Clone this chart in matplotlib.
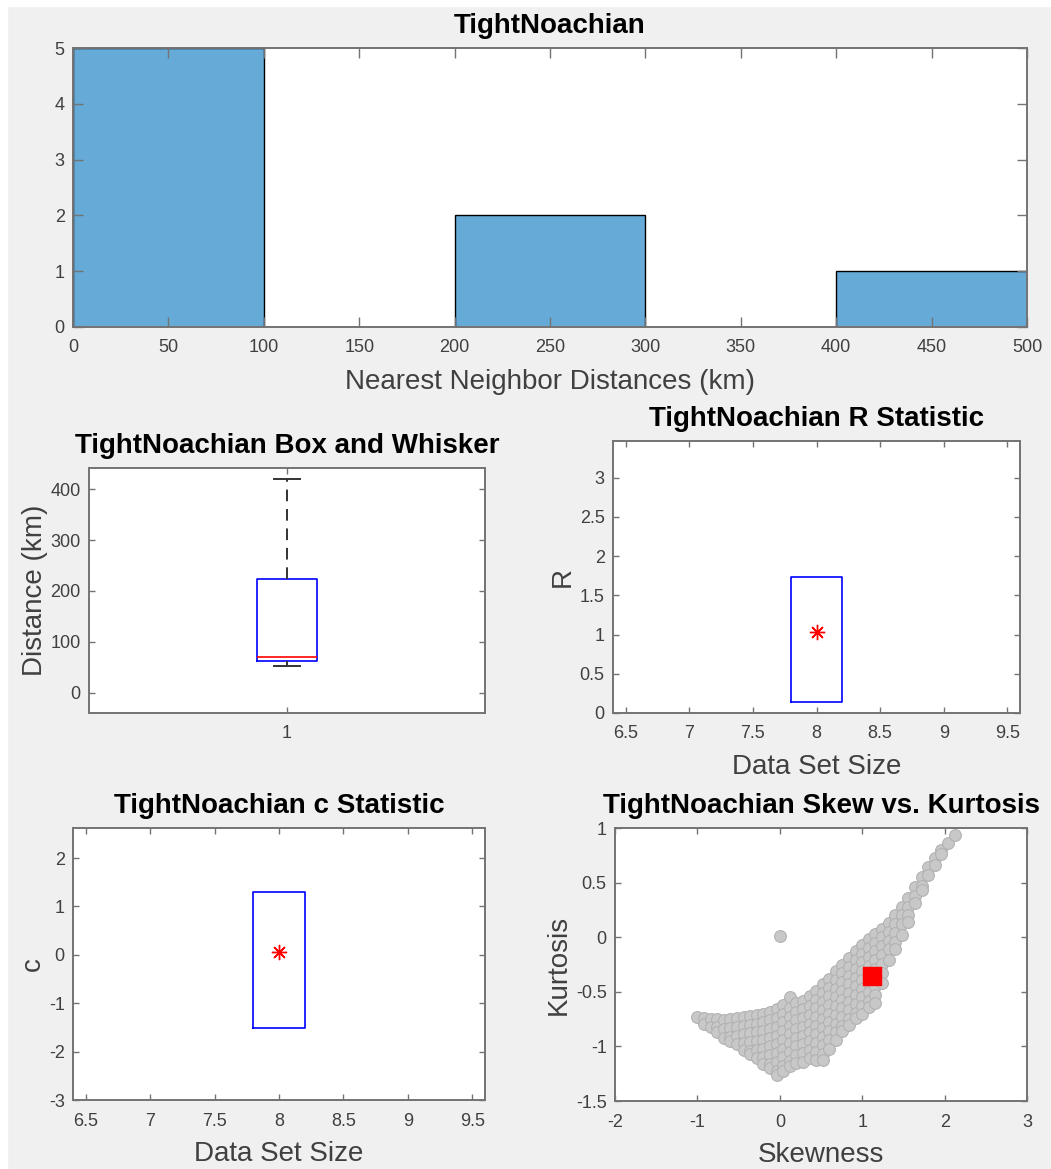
import numpy as np
import matplotlib
matplotlib.use("Agg")
import matplotlib.pyplot as plt
from matplotlib.patches import Rectangle

plt.rcParams['font.family'] = ['Liberation Sans', 'DejaVu Sans']
plt.rcParams['axes.unicode_minus'] = False

# --- data ---
hist_edges = [0, 100, 200, 300, 400, 500]
hist_counts = [5, 0, 2, 0, 1]

box_whislo = 53
box_q1 = 62
box_med = 70
box_q3 = 224
box_whishi = 421

r_size = 8
r_value = 1.03
r_low = 0.14
r_high = 1.74

c_size = 8
c_value = 0.05
c_low = -1.52
c_high = 1.30

# skew/kurtosis cloud, read column by column
skew_cols = [-1.0, -0.92, -0.84, -0.76, -0.68, -0.6, -0.52, -0.44, -0.36, -0.28,
             -0.2, -0.12, -0.04, 0.04, 0.12, 0.2, 0.28, 0.36, 0.44, 0.52,
             0.6, 0.68, 0.76, 0.84, 0.92, 1.0, 1.08, 1.16, 1.24, 1.32,
             1.4, 1.48, 1.56, 1.64, 1.72, 1.8, 1.88, 1.96, 2.04, 2.12]
kurt_cols = [
    [-0.73],
    [-0.74, -0.79],
    [-0.75, -0.82],
    [-0.75, -0.82, -0.87],
    [-0.76, -0.84, -0.92],
    [-0.75, -0.83, -0.91, -0.95],
    [-0.74, -0.82, -0.9, -0.98],
    [-0.73, -0.81, -0.89, -0.97, -1.03],
    [-0.72, -0.8, -0.88, -0.96, -1.04, -1.07],
    [-0.71, -0.79, -0.87, -0.95, -1.03, -1.11],
    [-0.7, -0.78, -0.86, -0.94, -1.02, -1.1, -1.16],
    [-0.68, -0.76, -0.84, -0.92, -1.0, -1.08, -1.16, -1.2],
    [-0.66, -0.74, -0.82, -0.9, -0.98, -1.06, -1.14, -1.22, -1.26],
    [-0.62, -0.7, -0.78, -0.86, -0.94, -1.02, -1.1, -1.18, -1.22],
    [-0.55, -0.65, -0.73, -0.81, -0.89, -0.97, -1.05, -1.13, -1.18],
    [-0.6, -0.68, -0.76, -0.84, -0.92, -1.0, -1.08, -1.15],
    [-0.58, -0.66, -0.74, -0.82, -0.9, -0.98, -1.06, -1.14],
    [-0.54, -0.63, -0.71, -0.79, -0.87, -0.95, -1.03, -1.11],
    [-0.49, -0.57, -0.65, -0.73, -0.81, -0.89, -0.97, -1.05, -1.12],
    [-0.43, -0.51, -0.59, -0.67, -0.75, -0.83, -0.91, -0.99, -1.07, -1.12],
    [-0.38, -0.46, -0.54, -0.62, -0.7, -0.78, -0.86, -0.94, -1.02],
    [-0.31, -0.39, -0.47, -0.55, -0.63, -0.71, -0.79, -0.87, -0.94],
    [-0.25, -0.33, -0.41, -0.49, -0.57, -0.65, -0.73, -0.81, -0.86],
    [-0.19, -0.27, -0.35, -0.43, -0.51, -0.59, -0.67, -0.75, -0.8],
    [-0.13, -0.21, -0.29, -0.37, -0.45, -0.53, -0.61, -0.69, -0.74],
    [-0.07, -0.15, -0.23, -0.31, -0.39, -0.47, -0.55, -0.63, -0.7],
    [-0.02, -0.1, -0.18, -0.26, -0.34, -0.42, -0.5, -0.58, -0.64],
    [0.03, -0.05, -0.13, -0.21, -0.29, -0.37, -0.45, -0.53, -0.6],
    [0.08, 0.0, -0.08, -0.16, -0.24, -0.33, -0.42],
    [0.13, 0.05, -0.03, -0.11, -0.21],
    [0.2, 0.12, 0.04, -0.04, -0.11],
    [0.28, 0.2, 0.12, 0.02],
    [0.36, 0.28, 0.2, 0.14],
    [0.46, 0.38, 0.31],
    [0.55, 0.47, 0.43],
    [0.64, 0.57],
    [0.73, 0.66],
    [0.8, 0.76],
    [0.86],
    [0.94],
]
skew_outlier = [0.0]
kurt_outlier = [0.01]
skew_obs = 1.12
kurt_obs = -0.35

# --- styling helpers ---
BG = '#f0f0f0'
SPINE = '#737373'
TXT = '#404040'
TITLE_FS = 20
LABEL_FS = 20


def style_axes(ax, ticklen=4):
    for s in ax.spines.values():
        s.set_color(SPINE)
        s.set_linewidth(1.4)
    ax.tick_params(direction='in', top=True, right=True, length=ticklen,
                   width=1.0, color=SPINE, labelcolor=TXT, labelsize=13)
    ax.tick_params(axis='x', pad=9)
    ax.tick_params(axis='y', pad=6)
    ax.set_facecolor('white')


fig = plt.figure(figsize=(10.51, 11.69), dpi=100, facecolor=BG)
fig.patches.append(Rectangle((0, 0), 7 / 1051, 1, transform=fig.transFigure,
                             color='white', zorder=-1))
fig.patches.append(Rectangle((0, 1 - 6 / 1169), 1, 6 / 1169, transform=fig.transFigure,
                             color='white', zorder=-1))

# histogram
ax1 = fig.add_axes([0.0695, 0.7203, 0.9077, 0.2386])
ax1.bar(hist_edges[:-1], hist_counts, width=np.diff(hist_edges), align='edge',
        color='#66aad7', edgecolor='black', linewidth=1.0)
ax1.set_xlim(0, 500)
ax1.set_ylim(0, 5)
ax1.set_xticks(np.arange(0, 501, 50))
ax1.set_yticks(range(0, 6))
style_axes(ax1, ticklen=7)
ax1.set_title('TightNoachian', fontsize=TITLE_FS, fontweight='bold', pad=11)
ax1.set_xlabel('Nearest Neighbor Distances (km)', fontsize=LABEL_FS, color=TXT, labelpad=9)

# box and whisker
ax2 = fig.add_axes([0.0847, 0.3901, 0.3768, 0.2096])
stats = [dict(med=box_med, q1=box_q1, q3=box_q3, whislo=box_whislo,
              whishi=box_whishi, fliers=[])]
ax2.bxp(stats, positions=[1], widths=0.15, showfliers=False,
        boxprops=dict(color='blue', linewidth=1.2),
        medianprops=dict(color='red', linewidth=1.2),
        whiskerprops=dict(color='#333333', linestyle=(0, (6, 4)), linewidth=1.4),
        capprops=dict(color='#333333', linewidth=1.4), capwidths=0.065)
ax2.set_xlim(0.5, 1.5)
ax2.set_ylim(-40, 442)
ax2.set_xticks([1])
ax2.set_xticklabels(['1'])
ax2.set_yticks([0, 100, 200, 300, 400])
style_axes(ax2)
ax2.set_title('TightNoachian Box and Whisker', fontsize=TITLE_FS, fontweight='bold', pad=11)
ax2.set_ylabel('Distance (km)', fontsize=LABEL_FS, color=TXT, labelpad=2)

# R statistic
ax3 = fig.add_axes([0.5833, 0.3901, 0.3873, 0.2327])
ax3.plot([r_size - 0.2, r_size + 0.2, r_size + 0.2, r_size - 0.2, r_size - 0.2],
         [r_low, r_low, r_high, r_high, r_low], color='blue', linewidth=1.2)
ax3.plot([r_size], [r_value], marker=(8, 2, 0), color='red', markersize=11,
         linestyle='none', markeredgewidth=1.0)
ax3.set_xlim(6.4, 9.6)
ax3.set_ylim(0, 3.47)
ax3.set_xticks(np.arange(6.5, 9.6, 0.5))
ax3.set_xticklabels(['6.5', '7', '7.5', '8', '8.5', '9', '9.5'])
ax3.set_yticks(np.arange(0, 3.1, 0.5))
ax3.set_yticklabels(['0', '0.5', '1', '1.5', '2', '2.5', '3'])
style_axes(ax3)
ax3.set_title('TightNoachian R Statistic', fontsize=TITLE_FS, fontweight='bold', pad=11)
ax3.set_xlabel('Data Set Size', fontsize=LABEL_FS, color=TXT, labelpad=8)
ax3.set_ylabel('R', fontsize=LABEL_FS, color=TXT, labelpad=3)

# c statistic
ax4 = fig.add_axes([0.0695, 0.0590, 0.392, 0.2327])
ax4.plot([c_size - 0.2, c_size + 0.2, c_size + 0.2, c_size - 0.2, c_size - 0.2],
         [c_low, c_low, c_high, c_high, c_low], color='blue', linewidth=1.2)
ax4.plot([c_size], [c_value], marker=(8, 2, 0), color='red', markersize=11,
         linestyle='none', markeredgewidth=1.0)
ax4.set_xlim(6.4, 9.6)
ax4.set_ylim(-3, 2.62)
ax4.set_xticks(np.arange(6.5, 9.6, 0.5))
ax4.set_xticklabels(['6.5', '7', '7.5', '8', '8.5', '9', '9.5'])
ax4.set_yticks(range(-3, 3))
style_axes(ax4)
ax4.set_title('TightNoachian c Statistic', fontsize=TITLE_FS, fontweight='bold', pad=11)
ax4.set_xlabel('Data Set Size', fontsize=LABEL_FS, color=TXT, labelpad=8)
ax4.set_ylabel('c', fontsize=LABEL_FS, color=TXT, labelpad=2)

# skew vs kurtosis
ax5 = fig.add_axes([0.5852, 0.0581, 0.392, 0.2335])
sx = []
ky = []
for x, col in zip(skew_cols, kurt_cols):
    for y in col:
        sx.append(x)
        ky.append(y)
ax5.scatter(sx + skew_outlier, ky + kurt_outlier, s=72, color='#c8c8c8',
            edgecolor='#b2b2b2', linewidth=0.8, zorder=2)
ax5.scatter([skew_obs], [kurt_obs], s=175, marker='s', color='red', zorder=3)
ax5.set_xlim(-2, 3)
ax5.set_ylim(-1.5, 1)
ax5.set_xticks(range(-2, 4))
ax5.set_yticks([-1.5, -1, -0.5, 0, 0.5, 1])
ax5.set_yticklabels(['-1.5', '-1', '-0.5', '0', '0.5', '1'])
style_axes(ax5)
ax5.set_title('TightNoachian Skew vs. Kurtosis', fontsize=TITLE_FS, fontweight='bold', pad=11)
ax5.set_xlabel('Skewness', fontsize=LABEL_FS, color=TXT, labelpad=8)
ax5.set_ylabel('Kurtosis', fontsize=LABEL_FS, color=TXT, labelpad=3)

fig.savefig('out.png', dpi=100, facecolor=BG)
